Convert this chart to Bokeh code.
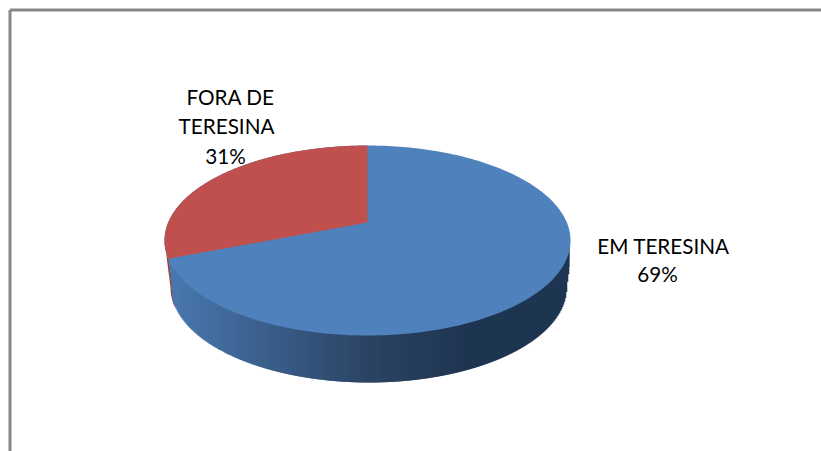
import numpy as np
from bokeh.plotting import figure
from bokeh.models import Range1d
from bokeh.core.properties import value
from bokeh.embed import file_html
from bokeh.resources import INLINE

categories = ["EM TERESINA", "FORA DE TERESINA"]
shares = [69, 31]
label_lines = [["EM TERESINA", "69%"], ["FORA DE", "TERESINA", "31%"]]

W, H = 821, 451
p = figure(width=W, height=H, output_backend="svg", toolbar_location=None,
           x_range=Range1d(0, W), y_range=Range1d(H, 0),
           min_border=0, outline_line_color=None, background_fill_color="white")
p.xaxis.visible = False
p.yaxis.visible = False
p.grid.visible = False

# frame
p.line([9.5, 821], [9.5, 9.5], line_color="#868686", line_width=3)
p.line([9.5, 9.5], [9.5, 451], line_color="#868686", line_width=3)

# pie geometry (screen pixels)
cx, cy, rx, ry = 367.0, 240.0, 203.0, 95.0
low_cx, low_cy, low_rx, low_ry = 367.5, 287.0, 197.5, 95.0
apex_shift = 18.0 / 95.0


def project(angle):
    """Angle clockwise from the top of a true circle to the perspective ellipse."""
    u, v = np.sin(angle), np.cos(angle)
    a = apex_shift
    d = 1 + a * v
    return cx + rx * u * np.sqrt(1 - a * a) / d, cy - ry * (v + a) / d


split = 2 * np.pi * shares[0] / sum(shares)
bx, by = project(split)


def y_top(x):
    return cy + ry * np.sqrt(np.clip(1 - ((x - cx) / rx) ** 2, 0, 1))


def y_low(x):
    return low_cy + low_ry * np.sqrt(np.clip(1 - ((x - low_cx) / low_rx) ** 2, 0, 1))


# red side sliver
th = np.linspace(np.pi, np.pi * 0.93, 12)
sx = list(cx + rx * np.cos(th)) + list((low_cx + low_rx * np.cos(th))[::-1])
sy = list(cy + ry * np.sin(th)) + list((low_cy + low_ry * np.sin(th))[::-1])
p.patch(sx, sy, fill_color="#9a3d3a", line_color=None)

# blue side, shaded strip by strip
stops_x = [168, 367, 470, 570]
stops_r = [0x4a, 0x2c, 0x1f, 0x1f]
stops_g = [0x79, 0x45, 0x35, 0x35]
stops_b = [0xb0, 0x65, 0x51, 0x51]
left_low_x = low_cx - low_rx + 2
right_low_x = low_cx + low_rx
right_limit = cx + rx - 1
xs = np.arange(bx, right_limit, 1.0)
tops, bottoms, colors = [], [], []
for x in xs:
    t = y_top(min(x + 2, right_limit))
    b = y_low(x)
    if x < left_low_x + 1:
        b = min(b, by + (x - bx) * (303 - by) / (left_low_x - bx))
    if x > right_low_x:
        b = min(b, low_cy - (x - right_low_x) * 37 / (cx + rx - right_low_x))
    tops.append(t)
    bottoms.append(max(b, t))
    c = [int(np.interp(x, stops_x, s)) for s in (stops_r, stops_g, stops_b)]
    colors.append("#%02x%02x%02x" % tuple(c))
p.quad(left=xs, right=np.minimum(xs + 2, right_limit), top=np.array(tops) - 2, bottom=bottoms,
       fill_color=colors, line_color=None)

# top face
th = np.linspace(0, 2 * np.pi, 361)
p.patch(cx + rx * np.cos(th), cy + ry * np.sin(th), fill_color="#4f81bd", line_color=None)
ang = np.linspace(split, 2 * np.pi, 120)
wx, wy = project(ang)
apy = cy - ry * apex_shift
p.patch(list(wx) + [cx], list(wy) + [apy], fill_color="#c0504d", line_color=None)

# labels
font = value("Lato")
px = [[663, 657], [230, 226, 225]]
py = [[245, 273], [96, 125, 155]]
for lines, xp, yp in zip(label_lines, px, py):
    p.text(xp, yp, text=lines, text_font=font, text_font_size="20.7px", text_color="#000000",
           text_align="center", text_baseline="middle")

open("out.html", "w").write(file_html(p, INLINE))
